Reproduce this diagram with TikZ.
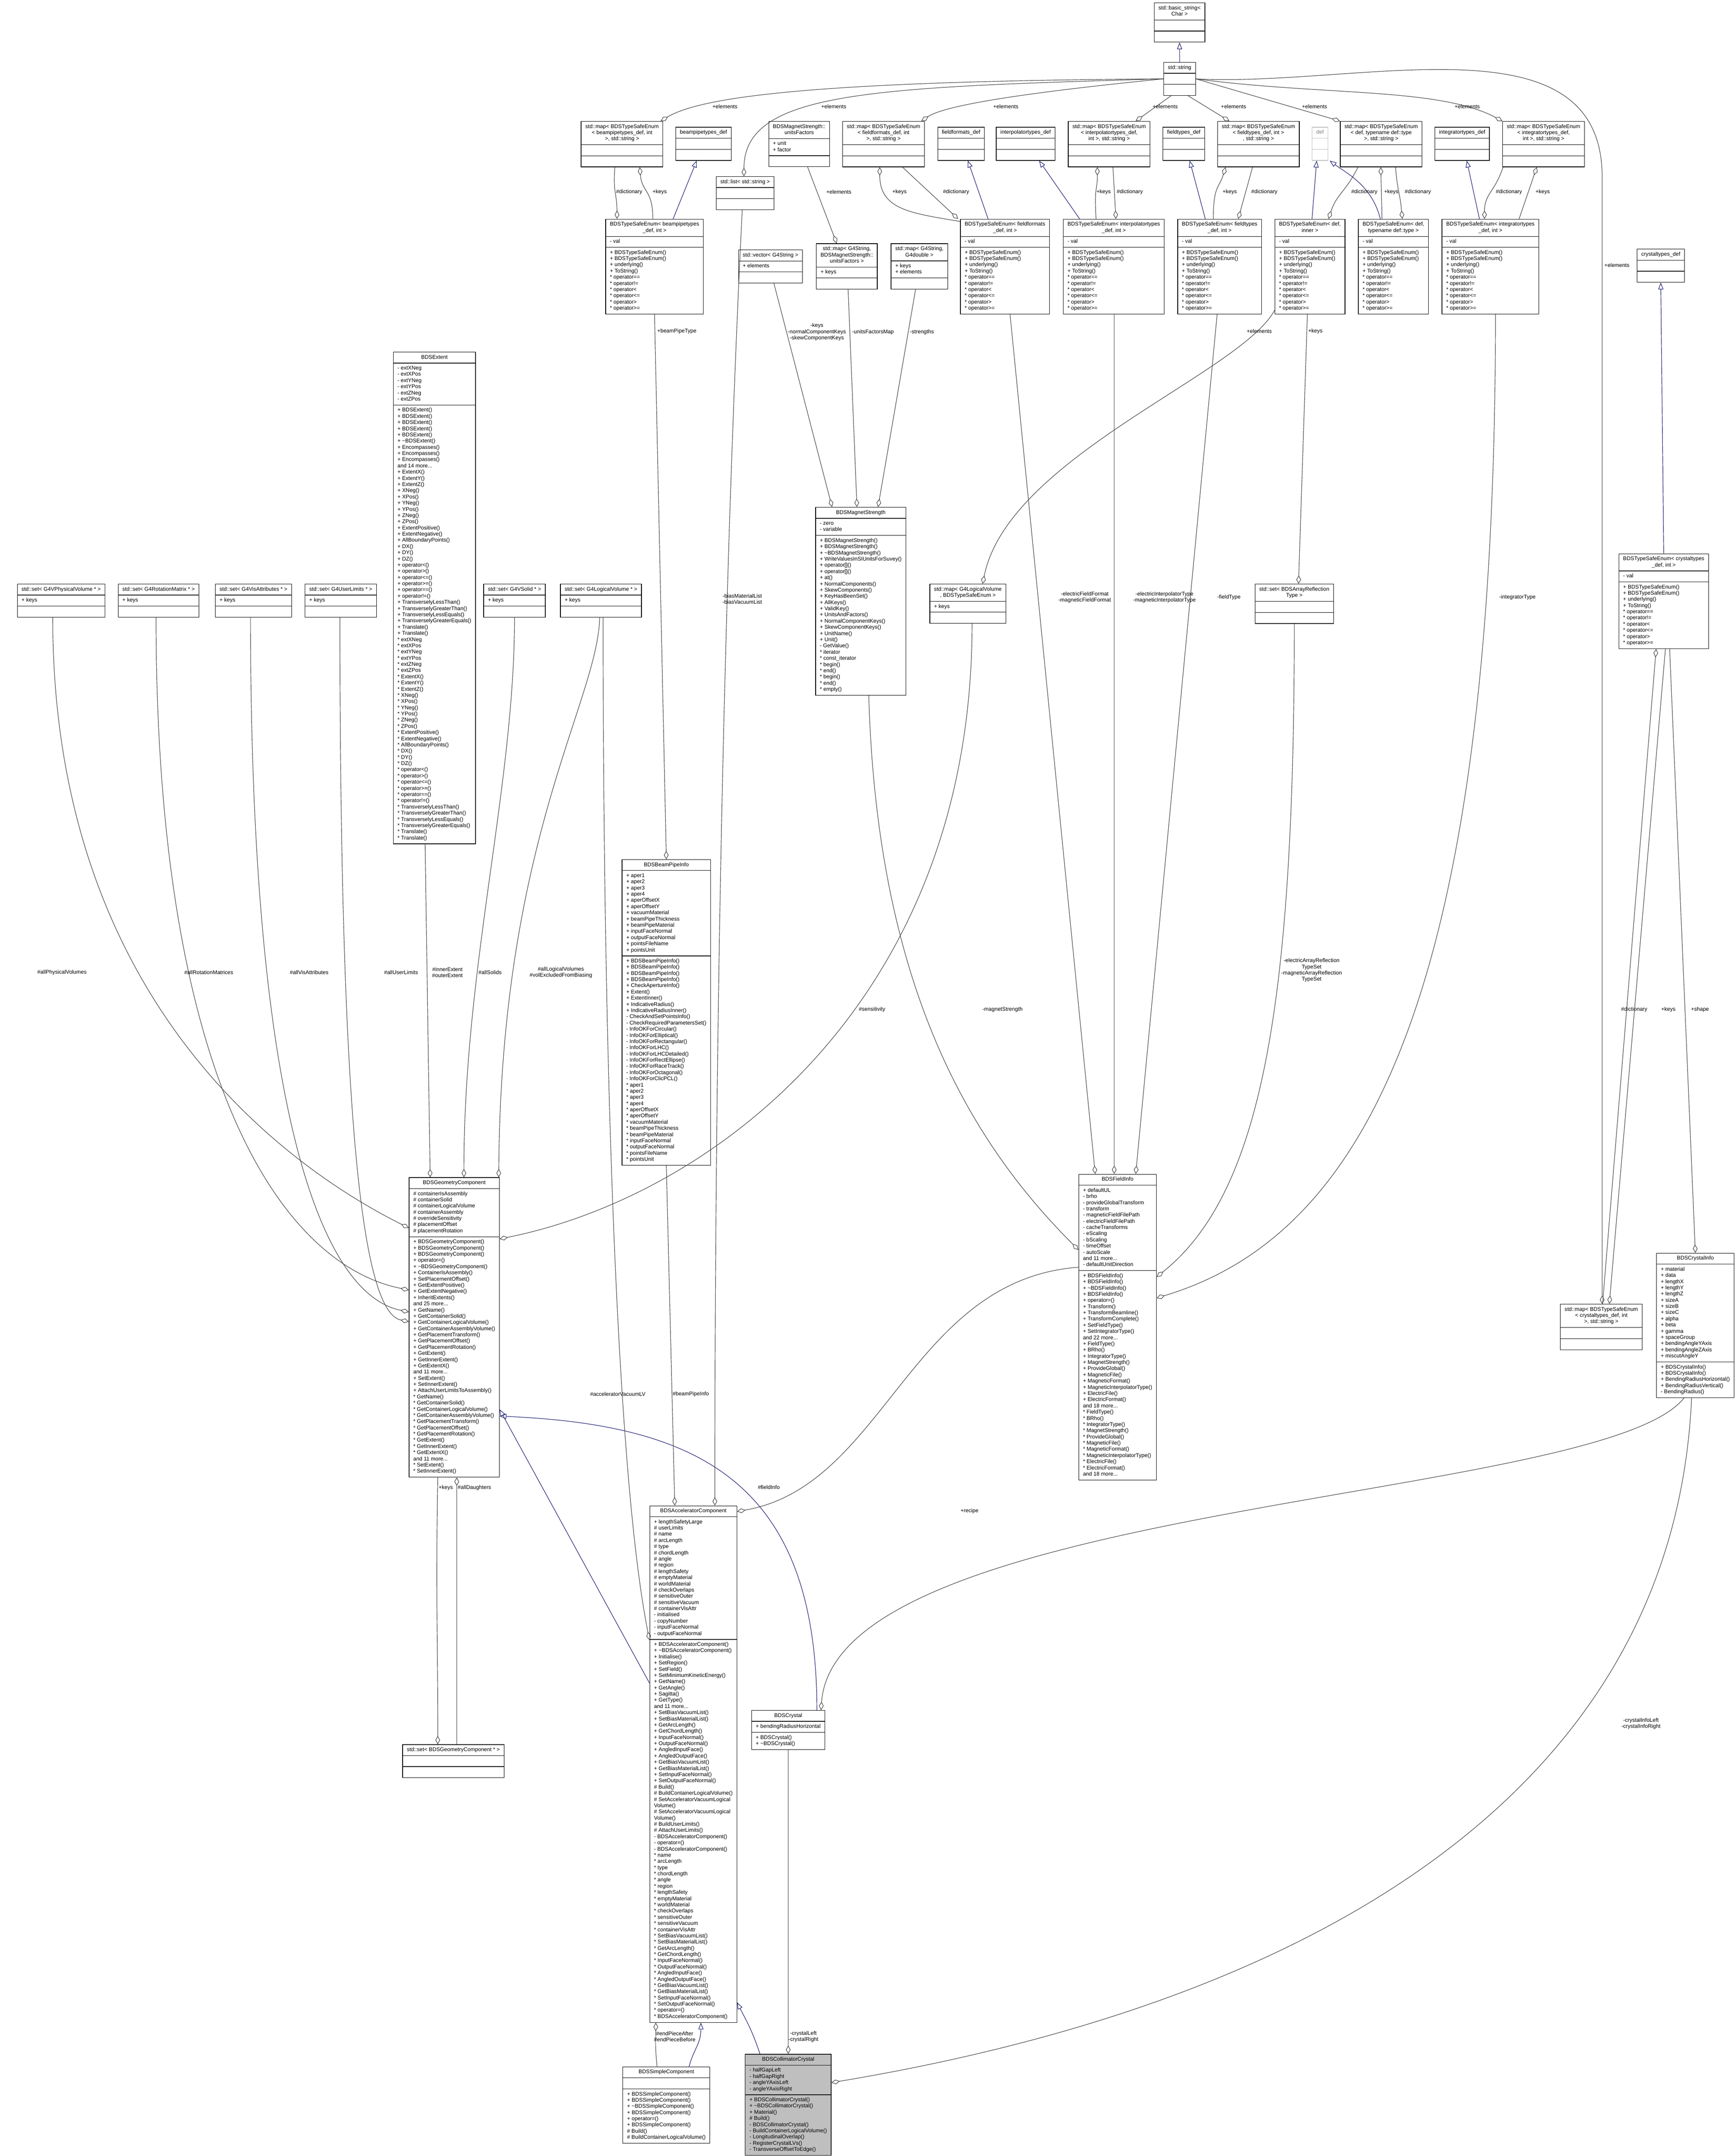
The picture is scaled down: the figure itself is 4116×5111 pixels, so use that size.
\documentclass[tikz,border=0pt]{standalone}
\usepackage{fontspec}
\setmainfont{Liberation Sans}
\usepackage{xcolor}
\usepackage{tikz}
\usetikzlibrary{shapes,arrows,arrows.meta,positioning}

\definecolor{edgegrey}{HTML}{404040}
\definecolor{inhblue}{HTML}{191970}
\definecolor{focusgrey}{HTML}{BFBFBF}

% class name (centred lines) and member list (left aligned lines)
\newcommand{\cname}[1]{\begin{tabular}{@{}c@{}}#1\end{tabular}}
\newcommand{\mlist}[1]{\begin{tabular}{@{}l@{}}#1\end{tabular}}
\newcommand{\dtor}{\textasciitilde}
\newcommand{\enummeth}{\mlist{+ BDSTypeSafeEnum()\\+ BDSTypeSafeEnum()\\+ underlying()\\+ ToString()\\{*} operator==\\{*} operator!=\\{*} operator<\\{*} operator<=\\{*} operator>\\{*} operator>=}}

\tikzset{
  dxtext/.style={font=\fontsize{12.8}{14.7}\selectfont},
  cls/.style={dxtext, draw=black, line width=1.3pt, fill=white,
    rectangle split, rectangle split parts=3,
    rectangle split part align={center,left,left},
    rectangle split empty part height=10pt,
    rectangle split empty part depth=5pt,
    inner xsep=10pt, inner ysep=5pt, anchor=north},
  focus/.style={cls, fill=focusgrey},
  lbl/.style={dxtext, inner sep=1pt, align=center},
  uses/.style={draw=edgegrey, line width=1.2pt, -{Diamond[open,length=20pt,width=11pt]}},
  inh/.style={draw=inhblue, line width=1.2pt, -{Triangle[open,length=16pt,width=12pt]}}
}

\begin{document}
\begin{tikzpicture}[x=1pt,y=1pt]
\useasboundingbox (0,0) rectangle (4116,-5111);

% strings and enum maps
\node[cls] (bstr) at (2797,-6) {\cname{std::basic\_string<\\Char >}\nodepart{two}\nodepart{three}};
\node[cls] (str) at (2797,-147) {\cname{std::string}\nodepart{two}\nodepart{three}};
\node[cls] (mapbpt) at (1475,-287) {\cname{std::map< BDSTypeSafeEnum\\< beampipetypes\_def, int\\>, std::string >}\nodepart{two}\nodepart{three}};
\node[cls] (bptdef) at (1668,-301) {\cname{beampipetypes\_def}\nodepart{two}\nodepart{three}};
\node[cls] (list) at (1767,-418) {\cname{std::list< std::string >}\nodepart{two}\nodepart{three}};
\node[cls] (uf) at (1895,-287) {\cname{BDSMagnetStrength::\\unitsFactors}\nodepart{two}\mlist{+ unit\\+ factor}\nodepart{three}};
\node[cls] (mapff) at (2095,-287) {\cname{std::map< BDSTypeSafeEnum\\< fieldformats\_def, int\\>, std::string >}\nodepart{two}\nodepart{three}};
\node[cls] (ffdef) at (2279,-301) {\cname{fieldformats\_def}\nodepart{two}\nodepart{three}};
\node[cls] (interpdef) at (2432,-301) {\cname{interpolatortypes\_def}\nodepart{two}\nodepart{three}};
\node[cls] (mapinterp) at (2630,-287) {\cname{std::map< BDSTypeSafeEnum\\< interpolatortypes\_def,\\int >, std::string >}\nodepart{two}\nodepart{three}};
\node[cls] (ftdef) at (2807,-301) {\cname{fieldtypes\_def}\nodepart{two}\nodepart{three}};
\node[cls] (mapft) at (2984,-287) {\cname{std::map< BDSTypeSafeEnum\\< fieldtypes\_def, int >\\, std::string >}\nodepart{two}\nodepart{three}};
\node[cls, draw=focusgrey, text=gray] (def) at (3130,-301) {\cname{def}\nodepart{two}\nodepart{three}};
\node[cls] (mapdef) at (3275,-287) {\cname{std::map< BDSTypeSafeEnum\\< def, typename def::type\\>, std::string >}\nodepart{two}\nodepart{three}};
\node[cls] (integdef) at (3467,-301) {\cname{integratortypes\_def}\nodepart{two}\nodepart{three}};
\node[cls] (mapinteg) at (3660,-287) {\cname{std::map< BDSTypeSafeEnum\\< integratortypes\_def,\\int >, std::string >}\nodepart{two}\nodepart{three}};
\node[cls] (crydef) at (3938,-590) {\cname{crystaltypes\_def}\nodepart{two}\nodepart{three}};

% type safe enums
\node[cls] (bsebpt) at (1552,-519) {\cname{BDSTypeSafeEnum< beampipetypes\\\_def, int >}\nodepart{two}\mlist{- val}\nodepart{three}\enummeth};
\node[cls] (bseff) at (2383,-519) {\cname{BDSTypeSafeEnum< fieldformats\\\_def, int >}\nodepart{two}\mlist{- val}\nodepart{three}\enummeth};
\node[cls] (bseinterp) at (2641,-519) {\cname{BDSTypeSafeEnum< interpolatortypes\\\_def, int >}\nodepart{two}\mlist{- val}\nodepart{three}\enummeth};
\node[cls] (bseft) at (2892,-519) {\cname{BDSTypeSafeEnum< fieldtypes\\\_def, int >}\nodepart{two}\mlist{- val}\nodepart{three}\enummeth};
\node[cls] (bseinner) at (3106,-519) {\cname{BDSTypeSafeEnum< def,\\inner >}\nodepart{two}\mlist{- val}\nodepart{three}\enummeth};
\node[cls] (bsetype) at (3304,-519) {\cname{BDSTypeSafeEnum< def,\\typename def::type >}\nodepart{two}\mlist{- val}\nodepart{three}\enummeth};
\node[cls] (bseinteg) at (3534,-519) {\cname{BDSTypeSafeEnum< integratortypes\\\_def, int >}\nodepart{two}\mlist{- val}\nodepart{three}\enummeth};
\node[cls] (bsecry) at (3945,-1312) {\cname{BDSTypeSafeEnum< crystaltypes\\\_def, int >}\nodepart{two}\mlist{- val}\nodepart{three}\enummeth};

% magnet strength
\node[cls] (vec) at (1827,-592) {\cname{std::vector< G4String >}\nodepart{two}\mlist{+ elements}\nodepart{three}};
\node[cls] (mapuf) at (2008,-577) {\cname{std::map< G4String,\\BDSMagnetStrength::\\unitsFactors >}\nodepart{two}\mlist{+ keys}\nodepart{three}};
\node[cls] (mapdbl) at (2180,-577) {\cname{std::map< G4String,\\G4double >}\nodepart{two}\mlist{+ keys\\+ elements}\nodepart{three}};
\node[cls] (ms) at (2041,-1202) {\cname{BDSMagnetStrength}\nodepart{two}\mlist{- zero\\- variable}\nodepart{three}\mlist{+ BDSMagnetStrength()\\+ BDSMagnetStrength()\\+ \dtor BDSMagnetStrength()\\+ WriteValuesInSIUnitsForSuvey()\\+ operator[]()\\+ operator[]()\\+ at()\\+ NormalComponents()\\+ SkewComponents()\\+ KeyHasBeenSet()\\+ AllKeys()\\+ ValidKey()\\+ UnitsAndFactors()\\+ NormalComponentKeys()\\+ SkewComponentKeys()\\+ UnitName()\\+ Unit()\\- GetValue()\\{*} iterator\\{*} const\_iterator\\{*} begin()\\{*} end()\\{*} begin()\\{*} end()\\{*} empty()}};

% sets on the left
\node[cls] (setpv) at (145,-1384) {\cname{std::set< G4VPhysicalVolume * >}\nodepart{two}\mlist{+ keys}\nodepart{three}};
\node[cls] (setrm) at (376,-1384) {\cname{std::set< G4RotationMatrix * >}\nodepart{two}\mlist{+ keys}\nodepart{three}};
\node[cls] (setva) at (601,-1384) {\cname{std::set< G4VisAttributes * >}\nodepart{two}\mlist{+ keys}\nodepart{three}};
\node[cls] (setul) at (808,-1384) {\cname{std::set< G4UserLimits * >}\nodepart{two}\mlist{+ keys}\nodepart{three}};
\node[cls] (setsolid) at (1220,-1384) {\cname{std::set< G4VSolid * >}\nodepart{two}\mlist{+ keys}\nodepart{three}};
\node[cls] (setlv) at (1425,-1384) {\cname{std::set< G4LogicalVolume * >}\nodepart{two}\mlist{+ keys}\nodepart{three}};
\node[cls] (maplv) at (2295,-1384) {\cname{std::map< G4LogicalVolume\\*, BDSTypeSafeEnum >}\nodepart{two}\mlist{+ keys}\nodepart{three}};
\node[cls] (setar) at (3069,-1384) {\cname{std::set< BDSArrayReflection\\Type >}\nodepart{two}\nodepart{three}};

\node[cls] (extent) at (1030,-834) {\cname{BDSExtent}\nodepart{two}\mlist{- extXNeg\\- extXPos\\- extYNeg\\- extYPos\\- extZNeg\\- extZPos}\nodepart{three}\mlist{+ BDSExtent()\\+ BDSExtent()\\+ BDSExtent()\\+ BDSExtent()\\+ BDSExtent()\\+ \dtor BDSExtent()\\+ Encompasses()\\+ Encompasses()\\+ Encompasses()\\and 14 more...\\+ ExtentX()\\+ ExtentY()\\+ ExtentZ()\\+ XNeg()\\+ XPos()\\+ YNeg()\\+ YPos()\\+ ZNeg()\\+ ZPos()\\+ ExtentPositive()\\+ ExtentNegative()\\+ AllBoundaryPoints()\\+ DX()\\+ DY()\\+ DZ()\\+ operator<()\\+ operator>()\\+ operator<=()\\+ operator>=()\\+ operator==()\\+ operator!=()\\+ TransverselyLessThan()\\+ TransverselyGreaterThan()\\+ TransverselyLessEquals()\\+ TransverselyGreaterEquals()\\+ Translate()\\+ Translate()\\{*} extXNeg\\{*} extXPos\\{*} extYNeg\\{*} extYPos\\{*} extZNeg\\{*} extZPos\\{*} ExtentX()\\{*} ExtentY()\\{*} ExtentZ()\\{*} XNeg()\\{*} XPos()\\{*} YNeg()\\{*} YPos()\\{*} ZNeg()\\{*} ZPos()\\{*} ExtentPositive()\\{*} ExtentNegative()\\{*} AllBoundaryPoints()\\{*} DX()\\{*} DY()\\{*} DZ()\\{*} operator<()\\{*} operator>()\\{*} operator<=()\\{*} operator>=()\\{*} operator==()\\{*} operator!=()\\{*} TransverselyLessThan()\\{*} TransverselyGreaterThan()\\{*} TransverselyLessEquals()\\{*} TransverselyGreaterEquals()\\{*} Translate()\\{*} Translate()}};

\node[cls] (bpi) at (1580,-2037) {\cname{BDSBeamPipeInfo}\nodepart{two}\mlist{+ aper1\\+ aper2\\+ aper3\\+ aper4\\+ aperOffsetX\\+ aperOffsetY\\+ vacuumMaterial\\+ beamPipeThickness\\+ beamPipeMaterial\\+ inputFaceNormal\\+ outputFaceNormal\\+ pointsFileName\\+ pointsUnit}\nodepart{three}\mlist{+ BDSBeamPipeInfo()\\+ BDSBeamPipeInfo()\\+ BDSBeamPipeInfo()\\+ BDSBeamPipeInfo()\\+ CheckApertureInfo()\\+ Extent()\\+ ExtentInner()\\+ IndicativeRadius()\\+ IndicativeRadiusInner()\\- CheckAndSetPointsInfo()\\- CheckRequiredParametersSet()\\- InfoOKForCircular()\\- InfoOKForElliptical()\\- InfoOKForRectangular()\\- InfoOKForLHC()\\- InfoOKForLHCDetailed()\\- InfoOKForRectEllipse()\\- InfoOKForRaceTrack()\\- InfoOKForOctagonal()\\- InfoOKForClicPCL()\\{*} aper1\\{*} aper2\\{*} aper3\\{*} aper4\\{*} aperOffsetX\\{*} aperOffsetY\\{*} vacuumMaterial\\{*} beamPipeThickness\\{*} beamPipeMaterial\\{*} inputFaceNormal\\{*} outputFaceNormal\\{*} pointsFileName\\{*} pointsUnit}};

\node[cls] (geom) at (1077,-2791) {\cname{BDSGeometryComponent}\nodepart{two}\mlist{\# containerIsAssembly\\\# containerSolid\\\# containerLogicalVolume\\\# containerAssembly\\\# overrideSensitivity\\\# placementOffset\\\# placementRotation}\nodepart{three}\mlist{+ BDSGeometryComponent()\\+ BDSGeometryComponent()\\+ BDSGeometryComponent()\\+ operator=()\\+ \dtor BDSGeometryComponent()\\+ ContainerIsAssembly()\\+ SetPlacementOffset()\\+ GetExtentPositive()\\+ GetExtentNegative()\\+ InheritExtents()\\and 25 more...\\+ GetName()\\+ GetContainerSolid()\\+ GetContainerLogicalVolume()\\+ GetContainerAssemblyVolume()\\+ GetPlacementTransform()\\+ GetPlacementOffset()\\+ GetPlacementRotation()\\+ GetExtent()\\+ GetInnerExtent()\\+ GetExtentX()\\and 11 more...\\+ SetExtent()\\+ SetInnerExtent()\\+ AttachUserLimitsToAssembly()\\{*} GetName()\\{*} GetContainerSolid()\\{*} GetContainerLogicalVolume()\\{*} GetContainerAssemblyVolume()\\{*} GetPlacementTransform()\\{*} GetPlacementOffset()\\{*} GetPlacementRotation()\\{*} GetExtent()\\{*} GetInnerExtent()\\{*} GetExtentX()\\and 11 more...\\{*} SetExtent()\\{*} SetInnerExtent()}};

\node[cls] (fi) at (2650,-2783) {\cname{BDSFieldInfo}\nodepart{two}\mlist{+ defaultUL\\- brho\\- provideGlobalTransform\\- transform\\- magneticFieldFilePath\\- electricFieldFilePath\\- cacheTransforms\\- eScaling\\- bScaling\\- timeOffset\\- autoScale\\and 11 more...\\- defaultUnitDirection}\nodepart{three}\mlist{+ BDSFieldInfo()\\+ BDSFieldInfo()\\+ \dtor BDSFieldInfo()\\+ BDSFieldInfo()\\+ operator=()\\+ Transform()\\+ TransformBeamline()\\+ TransformComplete()\\+ SetFieldType()\\+ SetIntegratorType()\\and 22 more...\\+ FieldType()\\+ BRho()\\+ IntegratorType()\\+ MagnetStrength()\\+ ProvideGlobal()\\+ MagneticFile()\\+ MagneticFormat()\\+ MagneticInterpolatorType()\\+ ElectricFile()\\+ ElectricFormat()\\and 18 more...\\{*} FieldType()\\{*} BRho()\\{*} IntegratorType()\\{*} MagnetStrength()\\{*} ProvideGlobal()\\{*} MagneticFile()\\{*} MagneticFormat()\\{*} MagneticInterpolatorType()\\{*} ElectricFile()\\{*} ElectricFormat()\\and 18 more...}};

% crystal side
\node[cls] (mapcry) at (3797,-3091) {\cname{std::map< BDSTypeSafeEnum\\< crystaltypes\_def, int\\>, std::string >}\nodepart{two}\nodepart{three}};
\node[cls, anchor=south] (cryinfo) at (4020,-3314) {\cname{BDSCrystalInfo}\nodepart{two}\mlist{+ material\\+ data\\+ lengthX\\+ lengthY\\+ lengthZ\\+ sizeA\\+ sizeB\\+ sizeC\\+ alpha\\+ beta\\+ gamma\\+ spaceGroup\\+ bendingAngleYAxis\\+ bendingAngleZAxis\\+ miscutAngleY}\nodepart{three}\mlist{+ BDSCrystalInfo()\\+ BDSCrystalInfo()\\+ BendingRadiusHorizontal()\\+ BendingRadiusVertical()\\- BendingRadius()}};

\node[cls] (acc) at (1644,-3569) {\cname{BDSAcceleratorComponent}\nodepart{two}\mlist{+ lengthSafetyLarge\\\# userLimits\\\# name\\\# arcLength\\\# type\\\# chordLength\\\# angle\\\# region\\\# lengthSafety\\\# emptyMaterial\\\# worldMaterial\\\# checkOverlaps\\\# sensitiveOuter\\\# sensitiveVacuum\\\# containerVisAttr\\- initialised\\- copyNumber\\- inputFaceNormal\\- outputFaceNormal}\nodepart{three}\mlist{+ BDSAcceleratorComponent()\\+ \dtor BDSAcceleratorComponent()\\+ Initialise()\\+ SetRegion()\\+ SetField()\\+ SetMinimumKineticEnergy()\\+ GetName()\\+ GetAngle()\\+ Sagitta()\\+ GetType()\\and 11 more...\\+ SetBiasVacuumList()\\+ SetBiasMaterialList()\\+ GetArcLength()\\+ GetChordLength()\\+ InputFaceNormal()\\+ OutputFaceNormal()\\+ AngledInputFace()\\+ AngledOutputFace()\\+ GetBiasVacuumList()\\+ GetBiasMaterialList()\\+ SetInputFaceNormal()\\+ SetOutputFaceNormal()\\\# Build()\\\# BuildContainerLogicalVolume()\\\# SetAcceleratorVacuumLogical\\Volume()\\\# SetAcceleratorVacuumLogical\\Volume()\\\# BuildUserLimits()\\\# AttachUserLimits()\\- BDSAcceleratorComponent()\\- operator=()\\- BDSAcceleratorComponent()\\{*} name\\{*} arcLength\\{*} type\\{*} chordLength\\{*} angle\\{*} region\\{*} lengthSafety\\{*} emptyMaterial\\{*} worldMaterial\\{*} checkOverlaps\\{*} sensitiveOuter\\{*} sensitiveVacuum\\{*} containerVisAttr\\{*} SetBiasVacuumList()\\{*} SetBiasMaterialList()\\{*} GetArcLength()\\{*} GetChordLength()\\{*} InputFaceNormal()\\{*} OutputFaceNormal()\\{*} AngledInputFace()\\{*} AngledOutputFace()\\{*} GetBiasVacuumList()\\{*} GetBiasMaterialList()\\{*} SetInputFaceNormal()\\{*} SetOutputFaceNormal()\\{*} operator=()\\{*} BDSAcceleratorComponent()}};

\node[cls] (setgc) at (1075,-4135) {\cname{std::set< BDSGeometryComponent * >}\nodepart{two}\nodepart{three}};
\node[cls] (crystal) at (1869,-4054) {\cname{BDSCrystal}\nodepart{two}\mlist{+ bendingRadiusHorizontal}\nodepart{three}\mlist{+ BDSCrystal()\\+ \dtor BDSCrystal()}};
\node[cls] (simple) at (1580,-4899) {\cname{BDSSimpleComponent}\nodepart{two}\nodepart{three}\mlist{+ BDSSimpleComponent()\\+ BDSSimpleComponent()\\+ \dtor BDSSimpleComponent()\\+ BDSSimpleComponent()\\+ operator=()\\+ BDSSimpleComponent()\\\# Build()\\\# BuildContainerLogicalVolume()}};
\node[focus] (coll) at (1869,-4869) {\cname{BDSCollimatorCrystal}\nodepart{two}\mlist{- halfGapLeft\\- halfGapRight\\- angleYAxisLeft\\- angleYAxisRight}\nodepart{three}\mlist{+ BDSCollimatorCrystal()\\+ \dtor BDSCollimatorCrystal()\\+ Material()\\\# Build()\\- BDSCollimatorCrystal()\\- BuildContainerLogicalVolume()\\- LongitudinalOverlap()\\- RegisterCrystalLVs()\\- TransverseOffsetToEdge()}};

% inheritance
\draw[inh] (str.north) -- (bstr.south);
\draw[inh] ([xshift=44]bsebpt.north) -- ([xshift=-16]bptdef.south);
\draw[inh] ([xshift=-40]bseff.north) -- ([xshift=16]ffdef.south);
\draw[inh] ([xshift=-81]bseinterp.north) -- ([xshift=32]interpdef.south);
\draw[inh] ([xshift=-34]bseft.north) -- ([xshift=14]ftdef.south);
\draw[inh] ([xshift=5]bseinner.north) -- ([xshift=-8]def.south);
\draw[inh] ([xshift=-31]bsetype.north) .. controls +(-20,80) and +(40,-30) .. ([xshift=23]def.south);
\draw[inh] ([xshift=-26]bseinteg.north) -- ([xshift=11]integdef.south);
\draw[inh] (bsecry.north) -- (crydef.south);
\draw[inh] ([yshift=-421]acc.north west) -- ([yshift=-550]geom.north east);
\draw[inh] ([xshift=68]crystal.north) .. controls +(0,550) and +(460,-20) .. ([yshift=-566]geom.north east);
\draw[inh] ([xshift=54]simple.north) .. controls +(10,40) and +(0,-50) .. ([xshift=18]acc.south);
\draw[inh] ([xshift=-67]coll.north) .. controls +(-20,60) and +(20,-40) .. ([yshift=48]acc.south east);

% elements of the string maps
\coordinate (crybend) at (3799,-420);
\draw[uses] (str.west) .. controls +(-800,-5) and +(100,60) .. ([xshift=-6]mapbpt.north east);
\draw[uses] (str.west) .. controls +(-700,-20) and +(0,200) .. ([xshift=-3]list.north);
\draw[uses] (str.west) .. controls +(-300,-30) and +(60,40) .. ([xshift=-8]mapff.north east);
\draw[uses] ([xshift=-20]str.south) -- ([xshift=63]mapinterp.north);
\draw[uses] ([xshift=20]str.south) -- ([xshift=-69]mapft.north);
\draw[uses] (str.east) -- (mapdef.north west);
\draw[uses] (str.east) .. controls +(300,-40) and +(-150,80) .. (mapinteg.north west);
\draw[uses] (str.east) to[out=-3,in=90] (crybend) -- ([xshift=2]mapcry.north);

% keys and dictionaries
\draw[uses] ([xshift=-17]mapbpt.south) .. controls +(-5,-60) and +(0,60) .. ([xshift=-89]bsebpt.north);
\draw[uses] ([xshift=-4]bsebpt.north) .. controls +(0,70) and +(5,-60) .. ([xshift=42]mapbpt.south);
\draw[uses] ([yshift=-6]bseff.north west) .. controls +(-120,20) and +(0,-100) .. ([xshift=-9]mapff.south);
\draw[uses] ([xshift=45]mapff.south) -- ([xshift=-5]bseff.north west);
\draw[uses] ([xshift=-42]bseinterp.north) .. controls +(-5,80) and +(0,-60) .. ([xshift=-28]mapinterp.south);
\draw[uses] ([xshift=9]mapinterp.south) -- ([xshift=5]bseinterp.north);
\draw[uses] ([xshift=-15]bseft.north) .. controls +(0,80) and +(-15,-50) .. ([xshift=-78]mapft.south);
\draw[uses] ([xshift=-14]mapft.south) -- ([xshift=44]bseft.north);
\draw[uses] ([xshift=-55]mapdef.south) .. controls +(-30,-60) and +(20,60) .. ([xshift=44]bseinner.north);
\draw[uses] ([xshift=-27]bsetype.north) -- ([xshift=-1]mapdef.south);
\draw[uses] ([xshift=34]mapdef.south) .. controls +(5,-60) and +(-5,60) .. ([xshift=21]bsetype.north);
\draw[uses] ([xshift=-96]mapinteg.south) .. controls +(-20,-60) and +(0,60) .. ([xshift=-14]bseinteg.north);
\draw[uses] ([xshift=68]bseinteg.north) -- ([xshift=-16]mapinteg.south);
\draw[uses] ([xshift=3]mapcry.north) -- ([xshift=-18]bsecry.south);
\draw[uses] ([xshift=4]bsecry.south) -- ([xshift=19]mapcry.north);
\draw[uses] ([xshift=14]bsecry.south) -- (cryinfo.north);

% magnet strength and field info
\draw[uses] ([xshift=20]uf.south) -- ([xshift=-24]mapuf.north);
\draw[uses] ([xshift=8]vec.south) -- ([xshift=-68]ms.north);
\draw[uses] ([xshift=3]mapuf.south) -- ([xshift=-9]ms.north);
\draw[uses] ([xshift=-9]mapdbl.south) -- ([xshift=41]ms.north);
\draw[uses] ([xshift=19]ms.south) .. controls +(20,-700) and +(-250,250) .. ([yshift=-180]fi.north west);
\draw[uses] ([xshift=12]bseff.south) -- ([xshift=-53]fi.north);
\draw[uses] ([xshift=1]bseinterp.south) -- ([xshift=-8]fi.north);
\draw[uses] ([xshift=-6]bseft.south) -- ([xshift=43]fi.north);
\draw[uses] (setar.south) .. controls +(0,-900) and +(250,200) .. ([yshift=-244]fi.north east);
\draw[uses] ([xshift=12]bseinteg.south) .. controls +(0,-1600) and +(500,150) .. ([yshift=-294]fi.north east);
\draw[uses] ([yshift=10]bseinner.south west) .. controls +(-80,-150) and +(60,300) .. ([xshift=35]maplv.north);
\draw[uses] ([xshift=-6]bseinner.south) -- ([xshift=10]setar.north);

% geometry component
\draw[uses] ([xshift=-20]setpv.south) .. controls +(0,-900) and +(-300,150) .. ([yshift=-120]geom.north west);
\draw[uses] ([xshift=-6]setrm.south) .. controls +(0,-1100) and +(-300,60) .. ([yshift=-267]geom.north west);
\draw[uses] ([xshift=-7]setva.south) .. controls +(0,-1200) and +(-200,40) .. ([yshift=-319]geom.north west);
\draw[uses] ([xshift=-2]setul.south) .. controls +(0,-1300) and +(-100,20) .. ([yshift=-342]geom.north west);
\draw[uses] ([xshift=-22]extent.south) -- ([xshift=-57]geom.north);
\draw[uses] (setsolid.south) .. controls +(0,-400) and +(0,500) .. ([xshift=23]geom.north);
\draw[uses] ([xshift=-3]setlv.south) .. controls +(-5,-200) and +(5,800) .. ([xshift=-2]geom.north east);
\draw[uses] ([xshift=10]maplv.south) .. controls +(0,-900) and +(500,100) .. ([yshift=-146]geom.north east);
\draw[uses] ([xshift=-39]geom.south) .. controls +(-5,-300) and +(0,300) .. ([xshift=-37]setgc.north);
\draw[uses] ([xshift=8]setgc.north) -- ([xshift=6]geom.south);

% accelerator component
\draw[uses] (bsebpt.south) -- (bpi.north);
\draw[uses] (bpi.south) -- ([xshift=-44]acc.north);
\draw[uses] ([xshift=-7]list.south) .. controls +(-40,-800) and +(0,1200) .. ([xshift=51]acc.north);
\draw[uses] ([xshift=5]setlv.south) .. controls +(0,-1000) and +(-80,400) .. ([yshift=-319]acc.north west);
\draw[uses] ([yshift=-221]fi.north west) .. controls +(-400,-30) and +(350,60) .. ([yshift=-14]acc.north east);
\draw[uses] ([xshift=-22]simple.north) .. controls +(-5,50) and +(0,-50) .. ([xshift=-89]acc.south);

% crystals
\draw[uses] ([xshift=-27]cryinfo.south) .. controls +(-193,-246) and +(36,494) .. ([xshift=-10]crystal.north east);
\draw[uses] ([xshift=-9]cryinfo.south) .. controls +(-40,-900) and +(1200,200) .. ([yshift=-68]coll.north east);
\draw[uses] (crystal.south) -- (coll.north);

% edge labels
\node[lbl] (l1) at (1719,-253) {+elements};
\node[lbl] (l2) at (1977,-253) {+elements};
\node[lbl] (l3) at (2385,-253) {+elements};
\node[lbl] (l4) at (2763,-253) {+elements};
\node[lbl] (l5) at (2925,-253) {+elements};
\node[lbl] (l6) at (3117,-253) {+elements};
\node[lbl] (l7) at (3479,-253) {+elements};
\node[lbl] (l8) at (3834,-629) {+elements};
\node[lbl] (l9) at (1492,-455) {\#dictionary};
\node[lbl] (l10) at (1564,-455) {+keys};
\node[lbl] (l11) at (1989,-455) {+elements};
\node[lbl] (l12) at (2133,-455) {+keys};
\node[lbl] (l13) at (2267,-455) {\#dictionary};
\node[lbl] (l14) at (2617,-455) {+keys};
\node[lbl] (l15) at (2679,-455) {\#dictionary};
\node[lbl] (l16) at (2916,-455) {+keys};
\node[lbl] (l17) at (2998,-455) {\#dictionary};
\node[lbl] (l18) at (3235,-455) {\#dictionary};
\node[lbl] (l19) at (3299,-455) {+keys};
\node[lbl] (l20) at (3362,-455) {\#dictionary};
\node[lbl] (l21) at (3578,-455) {\#dictionary};
\node[lbl] (l22) at (3658,-455) {+keys};
\node[lbl] (l23) at (1937,-787) {-keys\\-normalComponentKeys\\-skewComponentKeys};
\node[lbl] (l24) at (2070,-787) {-unitsFactorsMap};
\node[lbl] (l25) at (2186,-787) {-strengths};
\node[lbl] (l26) at (1605,-785) {+beamPipeType};
\node[lbl] (l27) at (2986,-785) {+elements};
\node[lbl] (l28) at (3119,-785) {+keys};
\node[lbl] (l29) at (1760,-1420) {-biasMaterialList\\-biasVacuumList};
\node[lbl] (l30) at (2572,-1416) {-electricFieldFormat\\-magneticFieldFormat};
\node[lbl] (l31) at (2761,-1416) {-electricInterpolatorType\\-magneticInterpolatorType};
\node[lbl] (l32) at (2914,-1416) {-fieldType};
\node[lbl] (l33) at (3598,-1416) {-integratorType};
\node[lbl] (l34) at (3875,-2393) {\#dictionary};
\node[lbl] (l35) at (3956,-2393) {+keys};
\node[lbl] (l36) at (4031,-2393) {+shape};
\node[lbl] (l37) at (147,-2305) {\#allPhysicalVolumes};
\node[lbl] (l38) at (495,-2305) {\#allRotationMatrices};
\node[lbl] (l39) at (733,-2305) {\#allVisAttributes};
\node[lbl] (l40) at (951,-2305) {\#allUserLimits};
\node[lbl] (l41) at (1061,-2305) {\#innerExtent\\\#outerExtent};
\node[lbl] (l42) at (1162,-2305) {\#allSolids};
\node[lbl] (l43) at (1330,-2305) {\#allLogicalVolumes\\\#volExcludedFromBiasing};
\node[lbl] (l44) at (2068,-2393) {\#sensitivity};
\node[lbl] (l45) at (2377,-2393) {-magnetStrength};
\node[lbl] (l46) at (3110,-2300) {-electricArrayReflection\\TypeSet\\-magneticArrayReflection\\TypeSet};
\node[lbl] (l47) at (1465,-3305) {\#acceleratorVacuumLV};
\node[lbl] (l48) at (1638,-3305) {\#beamPipeInfo};
\node[lbl] (l49) at (1057,-3527) {+keys};
\node[lbl] (l50) at (1125,-3527) {\#allDaughters};
\node[lbl] (l51) at (1823,-3526) {\#fieldInfo};
\node[lbl] (l52) at (2299,-3582) {+recipe};
\node[lbl] (l53) at (3891,-4086) {-crystalInfoLeft\\-crystalInfoRight};
\node[lbl] (l54) at (1600,-4828) {\#endPieceAfter\\\#endPieceBefore};
\node[lbl] (l55) at (1905,-4828) {-crystalLeft\\-crystalRight};
\end{tikzpicture}
\end{document}
